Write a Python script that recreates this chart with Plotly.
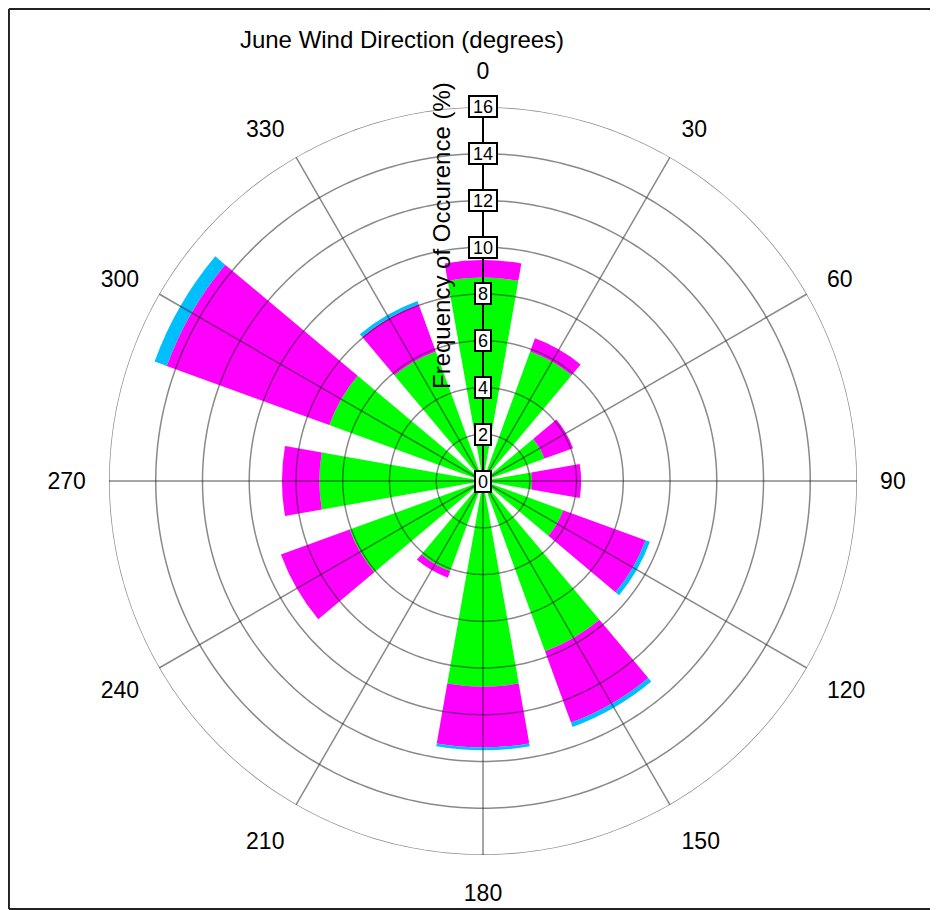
import plotly.graph_objects as go

# ---- data ----
directions = [0, 30, 60, 90, 120, 150, 180, 210, 240, 270, 300, 330]
green_vals = [8.7, 5.9, 2.8, 2.1, 3.65, 7.75, 8.8, 4.1, 6.07, 7.0, 7.0, 5.9]
magenta_vals = [0.75, 0.6, 1.3, 2.1, 3.75, 3.25, 2.6, 0.3, 3.13, 1.6, 7.4, 2.15]
cyan_vals = [0.0, 0.0, 0.0, 0.0, 0.2, 0.2, 0.12, 0.0, 0.0, 0.0, 0.55, 0.15]
radial_ticks = [0, 2, 4, 6, 8, 10, 12, 14, 16]
angular_ticks = [0, 30, 60, 90, 120, 150, 180, 210, 240, 270, 300, 330]

# the page has an 8px body margin; the figure's right edge is pushed past the window
W, H = 938, 902
OFF = 8
dom_x = [(109 - OFF) / W, (857 - OFF) / W]
dom_y = [1 - (855 - OFF) / H, 1 - (107 - OFF) / H]
RMAX = 16
FONT = "Liberation Sans, Arial, sans-serif"

fig = go.Figure()
for vals, col in [(green_vals, "#00FF00"), (magenta_vals, "#FF00FF"), (cyan_vals, "#00BFFF")]:
    fig.add_trace(go.Barpolar(r=vals, theta=directions, width=[20] * len(directions),
                              marker=dict(color=col, line=dict(width=0)),
                              showlegend=False, hoverinfo="skip"))

# grid drawn on top of the bars
grid_col = "rgba(40,40,40,0.55)"
circ_theta = list(range(0, 361, 1))
for rv in radial_ticks[1:]:
    fig.add_trace(go.Scatterpolar(r=[rv] * len(circ_theta), theta=circ_theta, mode="lines",
                                  line=dict(color=grid_col, width=1.5),
                                  showlegend=False, hoverinfo="skip"))
for a in angular_ticks[1:]:
    fig.add_trace(go.Scatterpolar(r=[0, RMAX], theta=[a, a], mode="lines",
                                  line=dict(color=grid_col, width=1.5),
                                  showlegend=False, hoverinfo="skip"))
# black radial axis line at north
fig.add_trace(go.Scatterpolar(r=[0, RMAX], theta=[0, 0], mode="lines",
                              line=dict(color="black", width=2),
                              showlegend=False, hoverinfo="skip"))

fig.update_layout(
    width=W, height=H,
    margin=dict(l=0, r=0, t=0, b=0),
    paper_bgcolor="white",
    font=dict(family=FONT, color="black"),
    polar=dict(
        domain=dict(x=dom_x, y=dom_y),
        bgcolor="white",
        barmode="stack",
        radialaxis=dict(range=[0, RMAX], showgrid=False, showticklabels=False,
                        showline=False, ticks=""),
        angularaxis=dict(rotation=90, direction="clockwise", tickmode="array",
                         tickvals=angular_ticks, ticktext=[str(a) for a in angular_ticks],
                         showgrid=False, showline=False, ticks="outside", ticklen=18,
                         tickcolor="rgba(0,0,0,0)", tickfont=dict(size=23, family=FONT)),
    ),
    title=dict(text="June Wind Direction (degrees)", x=(402 - OFF) / W, y=1 - (40 - OFF) / H,
               xanchor="center", yanchor="middle", xref="paper", yref="paper",
               font=dict(size=24, family=FONT, color="black")),
)

# boxed radial tick labels along the north axis
cx = (dom_x[0] + dom_x[1]) / 2
cy = (dom_y[0] + dom_y[1]) / 2
ry = (dom_y[1] - dom_y[0]) / 2
for v in radial_ticks:
    lab = str(v)
    fig.add_annotation(x=cx, y=cy + v / RMAX * ry, xref="paper", yref="paper",
                       text=lab, showarrow=False, xanchor="center", yanchor="middle",
                       font=dict(size=18, family=FONT, color="black"),
                       bgcolor="white", bordercolor="black", borderwidth=2, borderpad=1,
                       width=12 if len(lab) == 1 else 24, height=17)

# radial axis title
fig.add_annotation(x=(442 - OFF) / W, y=1 - (236 - OFF) / H, xref="paper", yref="paper",
                   text="Frequency of Occurence (%)", showarrow=False, textangle=-90,
                   xanchor="center", yanchor="middle",
                   font=dict(size=24, family=FONT, color="black"))

# outer frame: left, top and bottom edges (the right edge lies beyond the picture)
frame_col = "#222222"
top_y = 1 - (9 - OFF) / H
bot_y = 0.001
left_x = 0.001
fig.add_shape(type="line", xref="paper", yref="paper", x0=left_x, x1=left_x, y0=bot_y, y1=top_y,
              line=dict(color=frame_col, width=2))
fig.add_shape(type="line", xref="paper", yref="paper", x0=left_x, x1=1.0, y0=top_y, y1=top_y,
              line=dict(color=frame_col, width=2))
fig.add_shape(type="line", xref="paper", yref="paper", x0=left_x, x1=1.0, y0=bot_y, y1=bot_y,
              line=dict(color=frame_col, width=2))

fig.write_html("out.html")
